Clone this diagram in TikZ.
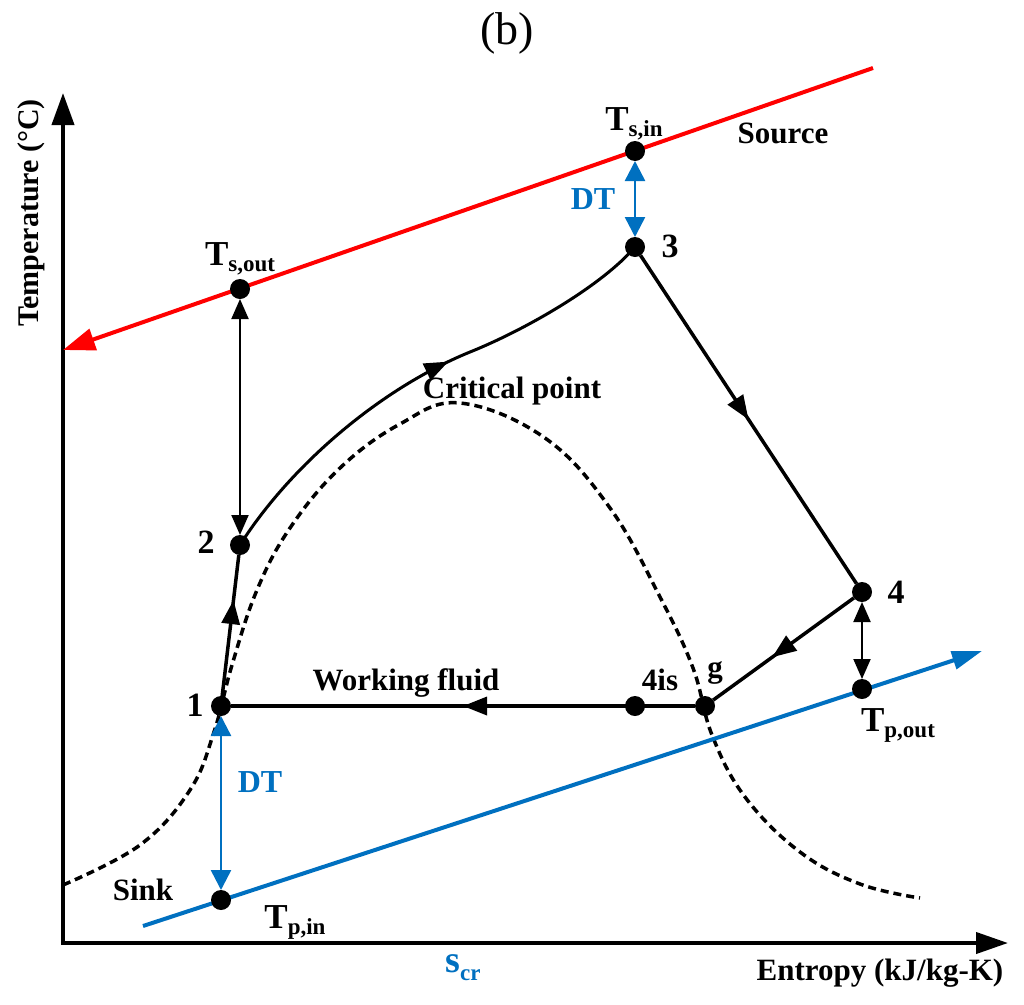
\documentclass[tikz,border=0pt]{standalone}
\usepackage{fontspec}
\setmainfont{Liberation Serif}
\usetikzlibrary{arrows.meta,decorations.markings}
\definecolor{srcred}{RGB}{255,0,0}
\definecolor{snkblue}{RGB}{0,112,192}
\newcommand{\lowsub}[1]{\raisebox{-0.22em}{\fontsize{23}{25}\selectfont #1}}
\newcommand{\bigT}{{\fontsize{35}{40}\selectfont T}}
\pgfdeclarelayer{bg}
\pgfsetlayers{bg,main}
\begin{document}
\begin{tikzpicture}[x=1pt,y=-1pt,
  dot/.style={circle,fill=black,minimum size=20pt,inner sep=0pt,outer sep=0pt},
  lbl/.style={font=\fontsize{31}{36}\selectfont\bfseries,anchor=base,inner sep=0pt},
  numlbl/.style={font=\fontsize{34}{38}\selectfont\bfseries,anchor=base,inner sep=0pt},
  bluelbl/.style={font=\fontsize{32}{38}\selectfont\bfseries,text=snkblue,anchor=base,inner sep=0pt},
  axisline/.style={line width=4pt,line join=miter,{Triangle[length=32pt,width=22pt]}-{Triangle[length=32pt,width=21pt]}},
  srcline/.style={srcred,line width=4pt,-{Triangle[length=32pt,width=22pt]}},
  snkline/.style={snkblue,line width=4pt,-{Triangle[length=30pt,width=18pt]}},
  proc/.style={line width=3.5pt,postaction={decorate},decoration={markings,mark=at position #1 with {\arrow{Triangle[length=24pt,width=18pt]}}}},
  dblarr/.style={line width=2pt,{Triangle[length=20pt,width=17pt]}-{Triangle[length=20pt,width=17pt]}},
  bluedbl/.style={snkblue,line width=2.5pt,{Triangle[length=20pt,width=20pt]}-{Triangle[length=20pt,width=20pt]}},
  dome/.style={line width=3.5pt,dash pattern=on 8pt off 5pt}
]
\useasboundingbox (0,0) rectangle (1024,1004);

% axes and heat-source / heat-sink lines
\coordinate (O) at (63,943);
\coordinate (Ytop) at (63,93);
\coordinate (Xend) at (1008,943);
\coordinate (redS) at (873,68);
\coordinate (redE) at (63,350);
\coordinate (blueS) at (143,926);
\coordinate (blueE) at (982,651);

% state points
\node[dot] (n1) at (221,706) {};
\node[dot] (n2) at (240,545) {};
\node[dot] (n3) at (635,247) {};
\node[dot] (n4) at (862,592) {};
\node[dot] (n4is) at (635,706) {};
\node[dot] (ng) at (705,706) {};
\node[dot] (tsin) at (635,151) {};
\node[dot] (tsout) at (240,289) {};
\node[dot] (tpin) at (221,900) {};
\node[dot] (tpout) at (862,689) {};

\begin{pgfonlayer}{bg}
\draw[dome] plot[smooth,tension=0.65] coordinates {(63,885) (140,845) (190,790) (214,732) (232,665) (257,590) (290,528) (340,468) (400,424) (460,403) (545,438) (610,508) (660,597) (693,668) (712,735) (745,797) (800,852) (860,884) (920,898)};
\draw[axisline] (Ytop) -- (O) -- (Xend);
\draw[srcline] (redS) -- (redE);
\draw[snkline] (blueS) -- (blueE);
\draw[proc=0.68] (n1) -- (n2);
\draw[proc=0.56,line width=3pt] (n2.center) .. controls (288,469) and (377,390) .. (470,352) .. controls (526,329.5) and (602,285.5) .. (n3.center);
\draw[proc=0.5] (n3) -- (n4);
\draw[proc=0.58] (n4) -- (ng);
\draw[proc=0.5] (ng) -- (n1);
\draw[dblarr] (tsout) -- (n2);
\draw[dblarr] (n4) -- (tpout);
\draw[bluedbl] (tsin) -- (n3);
\draw[bluedbl] (n1) -- (tpin);
\end{pgfonlayer}

% labels
\node[font=\fontsize{46}{52}\selectfont,anchor=base,inner sep=0pt] (title) at (507,44) {(b)};
\node[lbl,font=\fontsize{30}{36}\selectfont\bfseries,rotate=90] (ylab) at (38,213) {Temperature (°C)};
\node[lbl] (xlab) at (880,980) {Entropy (kJ/kg-K)};
\node[font=\fontsize{38}{42}\selectfont\bfseries,text=snkblue,anchor=base,inner sep=0pt] (scr) at (463,972) {s\lowsub{cr}};
\node[lbl] (ltsin) at (634,130) {\bigT\lowsub{s,in}};
\node[lbl] (lsource) at (783,143) {Source};
\node[bluelbl] (dttop) at (593,209) {DT};
\node[numlbl] (l3) at (670,257) {3};
\node[lbl] (ltsout) at (240,265) {\bigT\lowsub{s,out}};
\node[numlbl] (l2) at (206,553) {2};
\node[lbl] (lcrit) at (512,398) {Critical point};
\node[numlbl] (l4) at (896,603) {4};
\node[lbl] (l4is) at (660,690) {4is};
\node[lbl] (lg) at (715,677) {g};
\node[lbl] (ltpout) at (898,731) {\bigT\lowsub{p,out}};
\node[numlbl] (l1) at (195,716) {1};
\node[lbl] (lwf) at (406,690) {Working fluid};
\node[bluelbl] (dtbot) at (260,792) {DT};
\node[lbl] (lsink) at (143,900) {Sink};
\node[lbl] (ltpin) at (295,928) {\bigT\lowsub{p,in}};
\end{tikzpicture}
\end{document}
